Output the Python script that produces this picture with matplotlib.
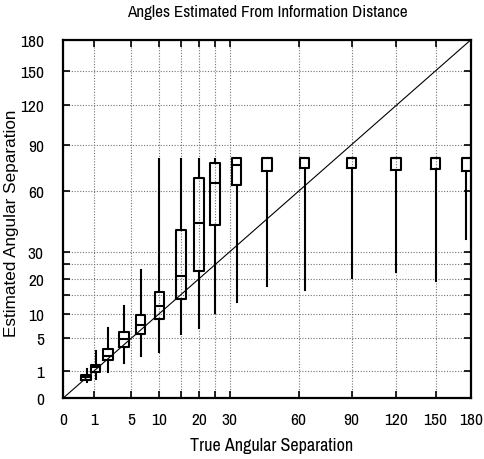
import numpy as np
import matplotlib
matplotlib.use('Agg')
import matplotlib.pyplot as plt

narrow = ['Archivo Narrow', 'DejaVu Sans']
plt.rcParams['font.family'] = narrow

## DATA ##
true_angle = [0.6, 1.16, 2.2, 4.0, 6.5, 10, 15, 20, 25, 32.5, 45, 63, 90, 120, 150, 176]
whis_lo = [0.37, 0.51, 0.97, 1.72, 2.44, 2.93, 5.75, 6.8, 10.1, 12.85, 17.7, 16.45, 20.1, 22.2, 19.3, 35.5]
q1 = [0.47, 0.97, 2.03, 3.6, 5.69, 8.82, 13.75, 22.6, 41.8, 63.6, 72.1, 74.4, 74.0, 73.1, 73.5, 72.1]
med = [0.62, 1.32, 2.51, 4.88, 7.47, 11.8, 20.8, 43.0, 64.7, 76.3, 80.8, 80.8, 80.8, 80.8, 80.8, 80.8]
q3 = [0.74, 1.56, 3.41, 6.17, 9.59, 15.85, 39.6, 67.9, 77.5, 80.6, 80.8, 80.8, 80.8, 80.8, 80.8, 80.8]
whis_hi = [1.18, 3.06, 6.81, 11.87, 23.1, 80.1, 80.1, 80.1, 80.1, 80.6, 80.8, 80.8, 80.8, 80.8, 80.8, 80.8]

grid_vals = [0, 1, 5, 10, 15, 20, 25, 30, 60, 90, 120, 150, 180]
tick_labels = ['0', '1', '5', '10', '', '20', '', '30', '60', '90', '120', '150', '180']

## PLOT ##
def fwd(x):
    return np.sqrt(np.clip(x, 0, None))

def inv(x):
    return np.square(x)

fig = plt.figure(figsize=(4.84, 4.6), dpi=100)
ax = fig.add_axes([0.1308, 0.1326, 0.8424, 0.779])
ax.set_xscale('function', functions=(fwd, inv))
ax.set_yscale('function', functions=(fwd, inv))

stats = []
for i in range(len(true_angle)):
    stats.append({'whislo': whis_lo[i], 'q1': q1[i], 'med': med[i],
                  'q3': q3[i], 'whishi': whis_hi[i], 'fliers': []})

# constant box width on the sqrt axis
h = 0.156
widths = [4 * h * np.sqrt(p) for p in true_angle]
lp = dict(color='black', linewidth=1.5)
ax.bxp(stats, positions=true_angle, widths=widths, showcaps=False,
       boxprops=lp, whiskerprops=lp, medianprops=lp, manage_ticks=False)

ax.plot([0, 180], [0, 180], color='black', linewidth=0.8)

ax.set_xlim(0, 180)
ax.set_ylim(0, 180)
ax.set_xticks(grid_vals)
ax.set_xticklabels(tick_labels)
ax.set_yticks(grid_vals)
ax.set_yticklabels(tick_labels)
ax.tick_params(direction='in', length=5, width=1.2, top=True, right=True,
               labelsize=12.5)
ax.tick_params(axis='x', pad=10)
ax.tick_params(axis='y', pad=14)
ax.grid(True, color='0.45', linestyle=(0, (1, 1.5)), linewidth=0.8)
for s in ax.spines.values():
    s.set_linewidth(1.6)

ax.set_title('Angles Estimated From Information Distance', fontsize=12.3, pad=17)
ax.set_xlabel('True Angular Separation', fontsize=13)
ax.set_ylabel('Estimated Angular Separation', fontsize=12.3,
              family=['Liberation Sans', 'DejaVu Sans'])
ax.xaxis.set_label_coords(0.512, -0.11)
ax.yaxis.set_label_coords(-0.109, 0.49)

plt.savefig('out.png', dpi=100)
plt.close()
